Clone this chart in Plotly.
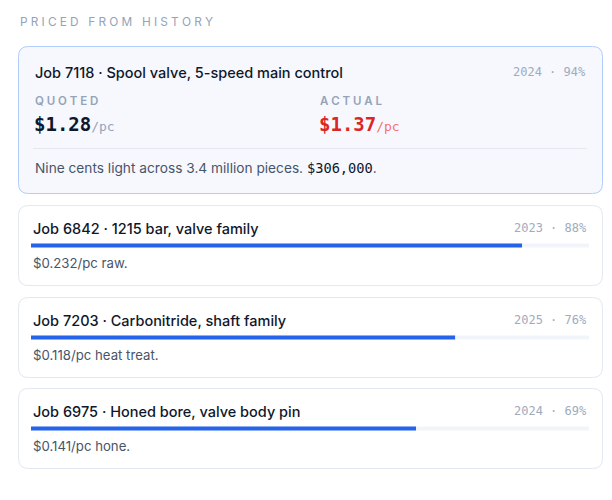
import plotly.graph_objects as go

# header + lead job
heading = "PRICED FROM HISTORY"
lead_title = "Job 7118 · Spool valve, 5-speed main control"
lead_meta = "2024 · 94%"
quoted = 1.28
actual = 1.37
lead_note = "Nine cents light across 3.4 million pieces. "
lead_total = "$306,000"

# other matched jobs
jobs = ["Job 6842 · 1215 bar, valve family",
        "Job 7203 · Carbonitride, shaft family",
        "Job 6975 · Honed bore, valve body pin"]
years = [2023, 2025, 2024]
match = [88, 76, 69]
notes = ["$0.232/pc raw.", "$0.118/pc heat treat.", "$0.141/pc hone."]

# the page body has an 8px margin, so the canvas covers 8..612 x 8..500
OFF = 8
W, H = 612 - OFF, 500 - OFF
SANS = "Inter, Noto Sans, sans-serif"
MONO = "DejaVu Sans Mono, monospace"
INK = "#0f172a"
MUTED = "#94a3b8"
BODY = "#475569"
BLUE = "#2563eb"


def spaced(s, gap="\u2009"):
    # fake letter-spacing with thin spaces
    out = ""
    for ch in s:
        out += ch + gap
    return out.rstrip(gap)


def rrect(x0, y0, x1, y1, r):
    return (f"M{x0+r},{y0} L{x1-r},{y0} Q{x1},{y0} {x1},{y0+r} "
            f"L{x1},{y1-r} Q{x1},{y1} {x1-r},{y1} L{x0+r},{y1} "
            f"Q{x0},{y1} {x0},{y1-r} L{x0},{y0+r} Q{x0},{y0} {x0+r},{y0} Z")


fig = go.Figure()
shapes = []
ann = []

ann.append(dict(x=18, y=22, text=spaced(heading, "\u2009\u200a"), xanchor="left", yanchor="middle",
                font=dict(family=SANS, size=11.8, color=MUTED)))

# lead card
shapes.append(dict(type="path", path=rrect(18.5, 46.5, 602.5, 193.5, 10),
                   line=dict(color="#b3cdfb", width=1), fillcolor="#f6f8fe", layer="below"))
ann.append(dict(x=33, y=72, text=lead_title, xanchor="left", yanchor="middle",
                font=dict(family=SANS, size=14.5, color=INK, weight=500)))
ann.append(dict(x=588, y=72, text=lead_meta, xanchor="right", yanchor="middle",
                font=dict(family=MONO, size=12, color="#a0abbd")))
ann.append(dict(x=33, y=101, text=spaced("QUOTED", "\u2009\u200a"), xanchor="left", yanchor="middle",
                font=dict(family=SANS, size=11.5, color=MUTED, weight=600)))
ann.append(dict(x=318, y=101, text=spaced("ACTUAL", "\u2009\u200a"), xanchor="left", yanchor="middle",
                font=dict(family=SANS, size=11.5, color=MUTED, weight=600)))
ann.append(dict(x=32, y=124,
                text=f"<b>${quoted:.2f}</b><span style='font-size:13px;color:{MUTED}'>/pc</span>",
                xanchor="left", yanchor="middle", font=dict(family=MONO, size=19, color=INK)))
ann.append(dict(x=317, y=124,
                text=f"<b>${actual:.2f}</b><span style='font-size:13px;color:#f87171'>/pc</span>",
                xanchor="left", yanchor="middle", font=dict(family=MONO, size=19, color="#dc2626")))
shapes.append(dict(type="line", x0=33, x1=587, y0=148.5, y1=148.5,
                   line=dict(color="#e2e8f0", width=1)))
ann.append(dict(x=33, y=168,
                text=lead_note + f"<span style='font-family:{MONO};color:{INK}'>{lead_total}</span>.",
                xanchor="left", yanchor="middle", font=dict(family=SANS, size=13.7, color=BODY)))

# job cards
card_top = [205, 297, 388]
bar_y = []
for i, job in enumerate(jobs):
    t = card_top[i]
    shapes.append(dict(type="path", path=rrect(18.5, t + 0.5, 602.5, t + 80.5, 10),
                       line=dict(color="#e2e8f0", width=1), fillcolor="white", layer="below"))
    ann.append(dict(x=31, y=t + 23, text=job, xanchor="left", yanchor="middle",
                    font=dict(family=SANS, size=14.5, color=INK, weight=500)))
    ann.append(dict(x=589, y=t + 23, text=f"{years[i]} · {match[i]}%", xanchor="right",
                    yanchor="middle", font=dict(family=MONO, size=12, color="#a0abbd")))
    ann.append(dict(x=31, y=t + 58, text=notes[i], xanchor="left", yanchor="middle",
                    font=dict(family=SANS, size=13.2, color=BODY)))
    bar_y.append(t + 40.5)

# match bars on their own x axis spanning the track
fig.add_trace(go.Bar(x=[100] * len(jobs), y=bar_y, orientation="h", width=4,
                     marker=dict(color="#f1f5f9", line=dict(width=0)),
                     xaxis="x2", yaxis="y", hoverinfo="skip"))
fig.add_trace(go.Bar(x=match, y=bar_y, orientation="h", width=4,
                     marker=dict(color=BLUE, line=dict(width=0)),
                     xaxis="x2", yaxis="y", hoverinfo="skip"))

fig.update_layout(
    width=W, height=H, margin=dict(l=0, r=0, t=0, b=0),
    paper_bgcolor="white", plot_bgcolor="rgba(0,0,0,0)", showlegend=False,
    barmode="overlay", shapes=shapes, annotations=ann,
    xaxis=dict(range=[OFF, 612], visible=False, fixedrange=True),
    xaxis2=dict(range=[0, 100], domain=[(31 - OFF) / W, (589 - OFF) / W], visible=False,
                anchor="y", fixedrange=True),
    yaxis=dict(range=[500, OFF], visible=False, fixedrange=True),
)
for a in fig.layout.annotations:
    a.showarrow = False
    a.xref = "x"
    a.yref = "y"

fig.write_html("out.html", config={"displayModeBar": False})
